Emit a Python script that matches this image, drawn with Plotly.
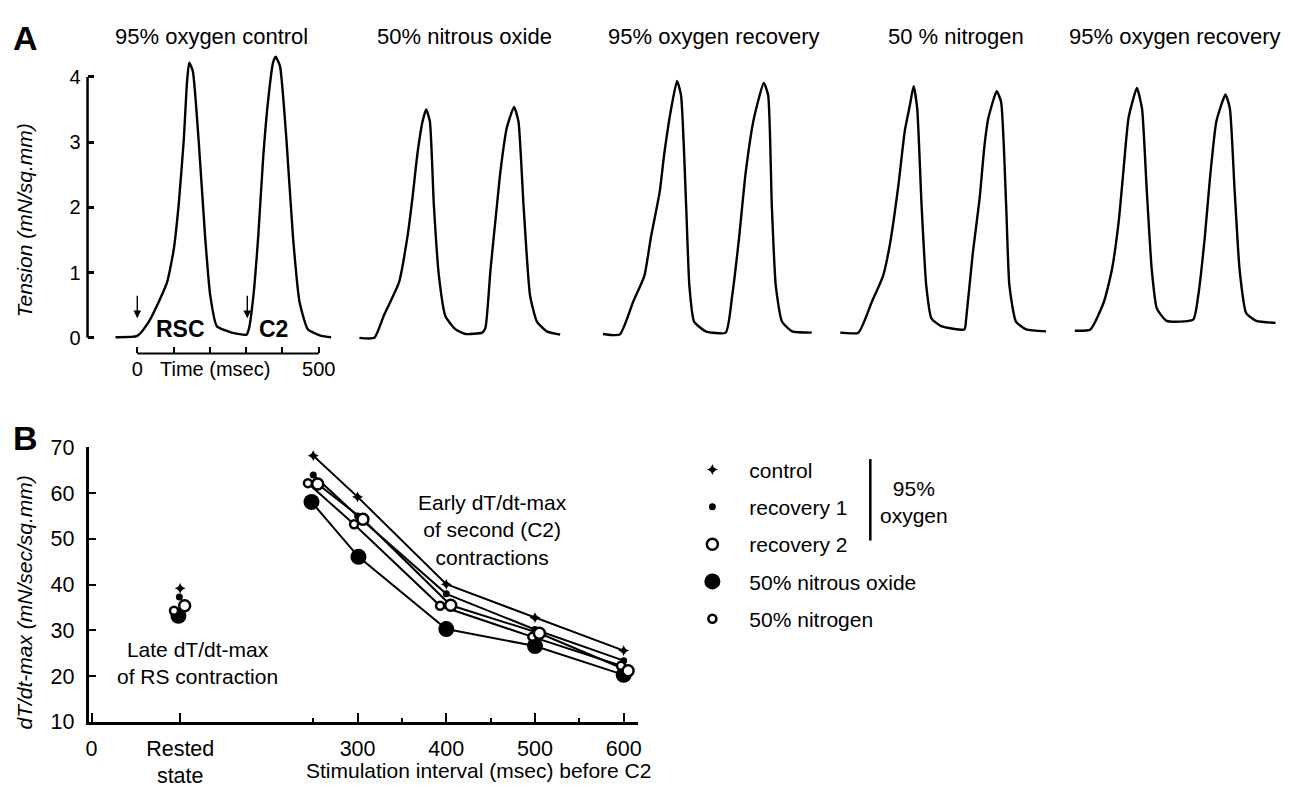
import plotly.graph_objects as go

W, H = 1303, 798
FONT = "Liberation Sans, Arial, Helvetica, sans-serif"

# ---------------- Panel A: isometric tension records ----------------
panel_titles = ["95% oxygen control", "50% nitrous oxide", "95% oxygen recovery",
                "50 % nitrogen", "95% oxygen recovery"]

# time (msec, 0 = rested-state stimulus) and tension (mN/sq.mm)
ctrl_t = [-60, 0, 32, 59, 82, 100, 114, 128, 137, 143, 153, 169, 187, 201, 219, 260, 301,
          308, 320, 333, 347, 361, 374, 381, 393, 411, 429, 447, 470, 507, 534]
ctrl_T = [0.01, 0.03, 0.25, 0.55, 0.85, 1.34, 2.04, 3.03, 3.92, 4.22, 4.09, 3.03, 1.54, 0.65,
          0.18, 0.08, 0.05, 0.15, 0.65, 1.54, 2.78, 3.67, 4.22, 4.31, 4.17, 3.03, 1.54, 0.55,
          0.13, 0.03, 0.01]

n2o_t = [-41, 0, 27, 68, 91, 105, 119, 133, 143, 153, 164, 178, 196, 224, 251, 297, 306,
         320, 338, 347, 365, 385, 397, 411, 429, 448, 475, 512]
n2o_T = [0.0, 0.0, 0.35, 0.85, 1.54, 2.14, 2.83, 3.32, 3.50, 3.32, 2.04, 0.95, 0.33, 0.13,
         0.06, 0.08, 0.15, 1.04, 2.04, 2.53, 3.22, 3.54, 3.32, 2.04, 0.65, 0.25, 0.10, 0.05]

rec1_t = [-46, 0, 37, 68, 86, 110, 123, 142, 158, 169, 183, 192, 205, 237, 292, 310, 329,
          347, 370, 397, 409, 419, 430, 447, 475, 529]
rec1_T = [0.06, 0.05, 0.55, 0.95, 1.54, 2.23, 2.83, 3.52, 3.94, 3.72, 2.04, 0.80, 0.25, 0.10,
          0.08, 0.65, 1.54, 2.53, 3.37, 3.91, 3.72, 2.04, 0.80, 0.25, 0.10, 0.08]

n2_t = [-50, 0, 37, 68, 87, 110, 128, 142, 152, 162, 174, 187, 201, 228, 292, 297, 315,
        334, 347, 358, 381, 393, 407, 416, 434, 462, 517]
n2_T = [0.08, 0.08, 0.55, 0.95, 1.44, 2.33, 3.18, 3.57, 3.86, 3.52, 2.04, 0.80, 0.30, 0.18,
        0.13, 0.30, 1.29, 2.14, 2.93, 3.37, 3.78, 3.62, 2.04, 0.80, 0.25, 0.13, 0.10]

rec2_t = [-43, 0, 37, 59, 78, 92, 105, 128, 142, 155, 169, 183, 210, 283, 297, 315, 329,
          347, 372, 384, 397, 411, 429, 457, 510]
rec2_T = [0.11, 0.13, 0.55, 1.04, 1.79, 2.63, 3.37, 3.83, 3.52, 2.28, 1.04, 0.45, 0.26,
          0.28, 0.65, 1.54, 2.43, 3.32, 3.73, 3.52, 2.28, 1.04, 0.38, 0.26, 0.23]

records = [(ctrl_t, ctrl_T), (n2o_t, n2o_T), (rec1_t, rec1_T), (n2_t, n2_T), (rec2_t, rec2_T)]

stimuli_ms = [0, 303]
tension_ticks = [0, 1, 2, 3, 4]
time_ticks = [0, 100, 200, 300, 400, 500]
time_tick_text = ["0", "", "", "", "", "500"]

# ---------------- Panel B: dT/dt-max ----------------
interval_ticks = [0, 100, 300, 400, 500, 600]
interval_tick_text = ["0", "Rested<br>state", "300", "400", "500", "600"]
interval_minor = [250, 350, 450, 550]
rate_ticks = [10, 20, 30, 40, 50, 60, 70]

series_names = ["control", "recovery 1", "recovery 2", "50% nitrous oxide", "50% nitrogen"]
control_x = [100, 250, 300, 400, 500, 600]
control_y = [39.2, 68.2, 59.2, 40.1, 32.8, 25.6]
recov1_x = [99, 250, 300, 400, 500, 600]
recov1_y = [37.3, 64.0, 55.0, 38.0, 30.2, 23.4]
recov2_x = [105, 255, 306, 405, 505, 605]
recov2_y = [35.4, 62.0, 54.3, 35.5, 29.4, 21.2]
nitrous_x = [98, 248, 301, 400, 500, 600]
nitrous_y = [33.2, 58.1, 46.1, 30.3, 26.6, 20.3]
nitrogen_x = [93, 244, 296, 393, 497, 597]
nitrogen_y = [34.3, 62.2, 53.2, 35.4, 28.6, 22.3]

series_x = [control_x, recov1_x, recov2_x, nitrous_x, nitrogen_x]
series_y = [control_y, recov1_y, recov2_y, nitrous_y, nitrogen_y]

# ---------------- layout helpers ----------------
def fx(px):
    return px / W


def fy(px):
    return 1 - px / H


def label(text, x, y, size=21, xref="paper", yref="paper", **kw):
    d = dict(text=text, xref=xref, yref=yref,
             x=fx(x) if xref == "paper" else x,
             y=fy(y) if yref == "paper" else y,
             xanchor="center", yanchor="middle", showarrow=False,
             font=dict(size=size))
    d.update(kw)
    return d


MS_PX = 0.365          # pixels per msec in panel A
T_PX = 67.25           # pixels per mN/sq.mm in panel A
ZERO_PX = 337          # vertical pixel of zero tension
A_TOP, A_BOT = 40, 353
onset_px = [135, 373.3, 620, 860, 1093.3]
title_px = [210, 464, 715, 958, 1178]
a_yrange = [(ZERO_PX - A_BOT) / T_PX, (ZERO_PX - A_TOP) / T_PX]

fig = go.Figure()
layout = dict(
    width=W, height=H, margin=dict(l=0, r=0, t=0, b=0),
    paper_bgcolor="white", plot_bgcolor="white",
    font=dict(family=FONT, size=21, color="black"),
    showlegend=True,
)

annotations = []
shapes = []

for i, (tt, TT) in enumerate(records):
    n = i + 1
    xa = "xaxis" if n == 1 else f"xaxis{n}"
    ya = "yaxis" if n == 1 else f"yaxis{n}"
    xr = "x" if n == 1 else f"x{n}"
    yr = "y" if n == 1 else f"y{n}"
    if n == 1:
        left_px, right_px = 85, 340
    else:
        left_px, right_px = onset_px[i] - 60 * MS_PX, onset_px[i] + 560 * MS_PX
    t0 = (left_px - onset_px[i]) / MS_PX
    t1 = (right_px - onset_px[i]) / MS_PX
    layout[xa] = dict(domain=[fx(left_px), fx(right_px)], range=[t0, t1], anchor=yr,
                      showgrid=False, zeroline=False, showline=False,
                      visible=(n == 1))
    layout[ya] = dict(domain=[fy(A_BOT), fy(A_TOP)], range=a_yrange, anchor=xr,
                      showgrid=False, zeroline=False, showline=False,
                      visible=(n == 1))
    fig.add_trace(go.Scatter(x=tt, y=TT, xaxis=xr, yaxis=yr, mode="lines",
                             line=dict(color="black", width=2.4, shape="spline", smoothing=0.5),
                             showlegend=False, hoverinfo="skip"))
    annotations.append(label(panel_titles[i], title_px[i], 26, size=22))

# panel A axes styling
layout["xaxis"].update(tickmode="array", tickvals=time_ticks, ticktext=time_tick_text,
                       ticks="inside", ticklen=6, tickwidth=2, tickcolor="black",
                       tickfont=dict(size=20), ticklabelstandoff=2)
layout["yaxis"].update(tickmode="array", tickvals=tension_ticks,
                       ticks="inside", ticklen=6, tickwidth=2.5, tickcolor="black",
                       tickfont=dict(size=20), ticklabelstandoff=6)

# tension axis line (0..4) and time scale bar (0..500 msec)
shapes.append(dict(type="line", xref="x domain", yref="y", x0=0, x1=0,
                   y0=tension_ticks[0], y1=tension_ticks[-1],
                   line=dict(color="black", width=2.5)))
shapes.append(dict(type="line", xref="x", yref="y domain", x0=time_ticks[0], x1=time_ticks[-1],
                   y0=0, y1=0, line=dict(color="black", width=2)))

annotations.append(label("Time (msec)", 213, 369, size=20, xref="x"))
annotations.append(label("<b>RSC</b>", 120, 0.13, size=23, xref="x", yref="y"))
annotations.append(label("<b>C2</b>", 376, 0.13, size=23, xref="x", yref="y"))
for s in stimuli_ms:
    annotations.append(dict(text="", xref="x", yref="y", x=s, y=0.3, ax=0, ay=-24,
                            showarrow=True, arrowhead=2, arrowsize=1.1, arrowwidth=1.4,
                            arrowcolor="black"))
annotations.append(label("<i>Tension (mN/sq.mm)</i>", 22, 216, size=21, textangle=-90))
annotations.append(label("<b>A</b>", 23, 28, size=34))

# ---------------- Panel B ----------------
B_X0_PX, B_X_SCALE = 89, 0.8917
b_left, b_right = 86, 638
b_bottom, b_top = 733, 450
layout["xaxis6"] = dict(domain=[fx(b_left), fx(b_right)],
                        range=[(b_left - B_X0_PX) / B_X_SCALE, (b_right - B_X0_PX) / B_X_SCALE],
                        anchor="y6", showgrid=False, zeroline=False,
                        showline=True, linecolor="black", linewidth=2.5,
                        tickmode="array", tickvals=interval_ticks, ticktext=interval_tick_text,
                        ticks="inside", ticklen=9, tickwidth=2, tickcolor="black",
                        tickfont=dict(size=21.5), ticklabelstandoff=5,
                        minor=dict(tickmode="array", tickvals=interval_minor, ticks="inside",
                                   ticklen=4, tickwidth=2, tickcolor="black", showgrid=False))
layout["yaxis6"] = dict(domain=[fy(b_bottom), fy(b_top)], range=[rate_ticks[0], rate_ticks[-1]],
                        anchor="x6", showgrid=False, zeroline=False,
                        showline=True, linecolor="black", linewidth=2.5,
                        tickmode="array", tickvals=rate_ticks,
                        ticks="inside", ticklen=8, tickwidth=2, tickcolor="black",
                        tickfont=dict(size=21.5), ticklabelstandoff=7)

marker_styles = [
    dict(symbol="star-diamond", size=8, color="black", line=dict(width=0)),
    dict(symbol="circle", size=7, color="black", line=dict(width=0)),
    dict(symbol="circle", size=11, color="white", line=dict(color="black", width=2.5)),
    dict(symbol="circle", size=16, color="black", line=dict(width=0)),
    dict(symbol="circle", size=8, color="white", line=dict(color="black", width=2.5)),
]

# connecting lines (stimulation intervals only)
for xs, ys in zip(series_x, series_y):
    fig.add_trace(go.Scatter(x=xs[1:], y=ys[1:], xaxis="x6", yaxis="y6", mode="lines",
                             line=dict(color="black", width=2), showlegend=False,
                             hoverinfo="skip"))
# markers, including the rested-state values
draw_order = [3, 0, 1, 4, 2]
for k in draw_order:
    fig.add_trace(go.Scatter(x=series_x[k], y=series_y[k], xaxis="x6", yaxis="y6",
                             mode="markers", marker=marker_styles[k], name=series_names[k],
                             legendgroup=series_names[k], legendrank=k + 1,
                             cliponaxis=False, showlegend=True))

layout["legend"] = dict(x=fx(676), y=fy(452), xanchor="left", yanchor="top",
                        font=dict(size=21), itemwidth=64, tracegroupgap=7,
                        bgcolor="rgba(0,0,0,0)", traceorder="grouped")

shapes.append(dict(type="line", xref="paper", yref="paper", x0=fx(872), x1=fx(872),
                   y0=fy(462), y1=fy(546), line=dict(color="black", width=2.5)))
annotations.append(label("95%<br>oxygen", 916, 506, size=21))

annotations.append(label("Early dT/dt-max<br>of second (C2)<br>contractions", 492, 535, size=21))
annotations.append(label("Late dT/dt-max<br>of RS contraction", 196, 672, size=21))
annotations.append(label("Stimulation interval (msec) before C2", 478, 783, size=21))
annotations.append(label("<i>dT/dt-max (mN/sec/sq.mm)</i>", 22, 610, size=21, textangle=-90))
annotations.append(label("<b>B</b>", 23, 440, size=34))

layout["annotations"] = annotations
layout["shapes"] = shapes
fig.update_layout(**layout)

fig.write_html("out.html")
